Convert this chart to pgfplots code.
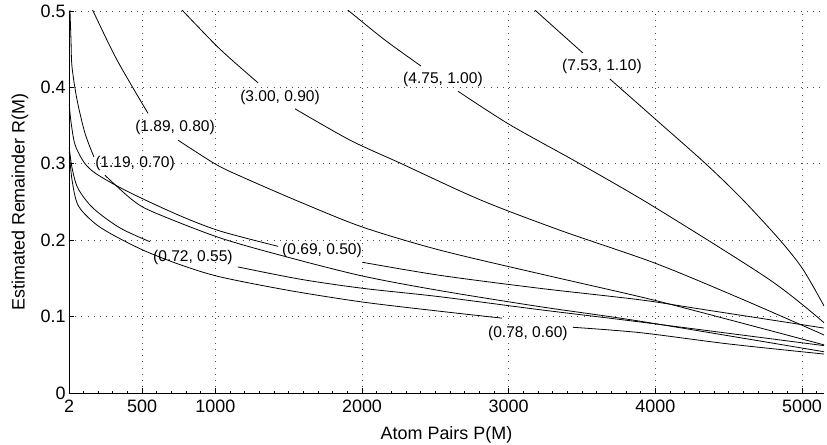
\documentclass[border=0pt]{standalone}
\usepackage{fontspec}
\setmainfont{Liberation Sans}
\usepackage{pgfplots}
\pgfplotsset{compat=1.18}
\begin{document}
\begin{tikzpicture}
\begin{axis}[
  at={(0,0)}, anchor=south west,
  scale only axis, width=755bp, height=382bp,
  xmin=2, xmax=5150, ymin=0, ymax=0.5,
  axis x line*=bottom, axis y line*=left,
  axis line style={-, black, line width=0.7bp},
  xtick={2,500,1000,2000,3000,4000,5000},
  xticklabels={2,500,1000,2000,3000,4000,5000},
  ytick={0,0.1,0.2,0.3,0.4,0.5},
  yticklabels={0,0.1,0.2,0.3,0.4,0.5},
  minor xtick={100,200,300,400,600,700,800,900,1100,1200,1300,1400,1500,1600,1700,1800,1900,2100,2200,2300,2400,2500,2600,2700,2800,2900,3100,3200,3300,3400,3500,3600,3700,3800,3900,4100,4200,4300,4400,4500,4600,4700,4800,4900,5100},
  tick align=inside,
  major tick length=5bp, minor tick length=2.5bp,
  tick style={black, line width=0.6bp},
  grid=major,
  major grid style={black!70, line width=0.6bp, dash pattern=on 0.7bp off 5.5bp},
  tick label style={font=\fontsize{18}{18}\selectfont},
  xticklabel style={yshift=-3bp},
  every axis x label/.style={at={(axis description cs:0.5,0)}, anchor=base, yshift=-46bp},
  every axis y label/.style={at={(axis description cs:-0.0649,0.5)}, rotate=90, anchor=center},
  label style={font=\fontsize{18}{18}\selectfont},
  xlabel={Atom Pairs P(M)},
  ylabel={Estimated Remainder R(M)},
  clip=true,
  crv/.style={black, line width=0.8bp, smooth, no markers},
]
% (7.53, 1.10)
\addplot[crv] coordinates {(3128,0.51) (3186,0.500) (3506,0.445)};
\addplot[crv] coordinates {(3690,0.411) (3997,0.359) (4338,0.301) (4591,0.254) (4850,0.200) (5006,0.162) (5150,0.114)};
% (4.75, 1.00)
\addplot[crv] coordinates {(1850,0.51) (1911,0.500) (2156,0.462) (2402,0.428)};
\addplot[crv] coordinates {(2654,0.395) (3009,0.351) (3486,0.300) (3997,0.243) (4781,0.148) (5150,0.092)};
% (3.00, 0.90)
\addplot[crv] coordinates {(729,0.51) (779,0.500) (1032,0.450) (1291,0.406)};
\addplot[crv] coordinates {(1543,0.372) (1918,0.331) (2259,0.301) (2804,0.253) (3350,0.213) (3997,0.170) (4577,0.124) (5150,0.076)};
% (1.89, 0.80)
\addplot[crv] coordinates {(140,0.51) (166,0.500) (329,0.436) (541,0.366)};
\addplot[crv] coordinates {(745,0.331) (997,0.300) (1168,0.284) (1577,0.250) (2006,0.217) (2531,0.187) (3213,0.156) (3895,0.126) (4304,0.106) (5150,0.063)};
% (1.19, 0.70)
\addplot[crv] coordinates {(5,0.53) (8.8,0.501) (15.6,0.462) (22.5,0.427) (56.5,0.384) (111,0.340) (172,0.309)};
\addplot[crv] coordinates {(247,0.285) (432,0.253) (575,0.237) (1032,0.203) (1509,0.177) (2006,0.153) (2531,0.134) (3213,0.113) (3895,0.094) (5150,0.054)};
% (0.69, 0.50)
\addplot[crv] coordinates {(4,0.377) (15.6,0.355) (43,0.325) (104,0.302) (172,0.289) (282,0.276) (452,0.259) (759,0.232) (1032,0.212) (1427,0.192)};
\addplot[crv] coordinates {(2006,0.171) (2531,0.154) (3213,0.137) (3895,0.122) (4304,0.110) (5150,0.085)};
% (0.72, 0.55)
\addplot[crv] coordinates {(4,0.321) (22.5,0.295) (63,0.268) (166,0.242) (350,0.216) (554,0.198)};
\addplot[crv] coordinates {(1154,0.165) (1577,0.149) (2006,0.137) (2531,0.126) (3213,0.109) (3895,0.093) (5150,0.062)};
% (0.78, 0.60)
\addplot[crv] coordinates {(4,0.315) (22.5,0.279) (63,0.246) (166,0.224) (282,0.209) (507,0.187) (759,0.168) (1032,0.152) (1509,0.134) (2006,0.119) (2531,0.107) (2954,0.098)};
\addplot[crv] coordinates {(3438,0.086) (3895,0.079) (4509,0.064) (5150,0.051)};
% labels
\begin{scope}[every node/.style={font=\fontsize{15.6}{15.6}\selectfont, inner sep=0pt, anchor=center}]
\node at (axis cs:3636,0.427) {(7.53, 1.10)};
\node at (axis cs:2552,0.411) {(4.75, 1.00)};
\node at (axis cs:1441,0.387) {(3.00, 0.90)};
\node at (axis cs:725,0.347) {(1.89, 0.80)};
\node at (axis cs:452,0.301) {(1.19, 0.70)};
\node at (axis cs:1727,0.186) {(0.69, 0.50)};
\node at (axis cs:847,0.178) {(0.72, 0.55)};
\node at (axis cs:3131,0.0785) {(0.78, 0.60)};
\end{scope}
\end{axis}
\pgfresetboundingbox
\path[use as bounding box] (-69bp,-52bp) rectangle (758bp,393bp);
\end{tikzpicture}
\end{document}
